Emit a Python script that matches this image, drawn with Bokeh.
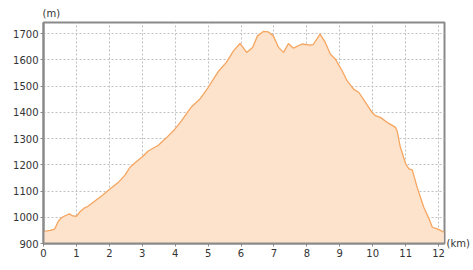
from bokeh.plotting import figure
from bokeh.models import Range1d, FixedTicker, Title, LinearAxis
from bokeh.embed import file_html
from bokeh.resources import INLINE

km = [0, 0.1, 0.2, 0.34, 0.45, 0.54, 0.64, 0.79, 0.89, 1.0, 1.1, 1.25, 1.35, 1.6,
      1.8, 2.0, 2.11, 2.28, 2.47, 2.62, 2.8, 3.02, 3.18, 3.48, 3.74, 3.99, 4.19,
      4.34, 4.5, 4.75, 5.0, 5.15, 5.31, 5.56, 5.77, 5.97, 6.17, 6.35, 6.5, 6.68,
      6.83, 6.98, 7.14, 7.29, 7.44, 7.59, 7.85, 8.1, 8.2, 8.4, 8.56, 8.71, 8.86,
      9.07, 9.22, 9.42, 9.58, 9.78, 9.98, 10.08, 10.23, 10.49, 10.69, 10.74,
      10.84, 11.0, 11.1, 11.2, 11.35, 11.55, 11.71, 11.81, 11.96, 12.06, 12.16]
elev = [947, 948, 950, 955, 985, 998, 1005, 1013, 1005, 1004, 1020, 1036, 1042, 1066,
        1085, 1106, 1117, 1134, 1160, 1190, 1210, 1233, 1253, 1274, 1304, 1336, 1368,
        1394, 1422, 1451, 1495, 1525, 1556, 1592, 1635, 1663, 1629, 1648, 1692, 1709,
        1707, 1692, 1648, 1629, 1663, 1645, 1661, 1657, 1660, 1699, 1667, 1623, 1604,
        1559, 1521, 1489, 1476, 1438, 1400, 1388, 1381, 1358, 1343, 1330,
        1267, 1204, 1185, 1181, 1114, 1038, 994, 962, 956, 950, 943]

x_ticks = list(range(0, 13))
y_ticks = [900, 1000, 1100, 1200, 1300, 1400, 1500, 1600, 1700]
y_unit = "(m)"
x_unit = "(km)"

p = figure(width=473, height=270, output_backend="svg", toolbar_location=None,
           x_range=Range1d(0, 12.18), y_range=Range1d(900, 1743),
           min_border_left=43, min_border_right=29, min_border_top=22,
           min_border_bottom=27)
p.background_fill_color = "white"
p.border_fill_color = "white"
p.outline_line_color = "#8a8a8a"
p.outline_line_width = 2

p.varea(x=km, y1=[900] * len(km), y2=elev, fill_color="#fde3cc", fill_alpha=1)
p.line(x=km, y=elev, line_color="#f5a55f", line_width=1.3)

for ax in (p.xaxis[0], p.yaxis[0]):
    ax.axis_line_color = "#8a8a8a"
    ax.axis_line_width = 2
    ax.major_tick_line_color = "#8a8a8a"
    ax.major_tick_out = 3
    ax.major_tick_in = 0
    ax.minor_tick_line_color = None
    ax.major_label_text_font = "DejaVu Sans"
    ax.major_label_text_font_size = "10px"
    ax.major_label_text_color = "#333333"
    ax.major_label_standoff = 2
p.xaxis.ticker = FixedTicker(ticks=x_ticks)
p.yaxis.ticker = FixedTicker(ticks=y_ticks)

p.grid.grid_line_color = "#c0c0c0"
p.grid.grid_line_dash = "2 2"
p.grid.grid_line_width = 1

# y unit as a left-aligned title above the frame
t = Title(text=y_unit, align="left", offset=-1, standoff=7,
          text_font="DejaVu Sans", text_font_size="10px",
          text_font_style="normal", text_color="#333333")
p.add_layout(t, "above")

# x unit as a one-tick right axis at the bottom of the frame
ra = LinearAxis(ticker=FixedTicker(ticks=[900]),
                major_label_overrides={900: x_unit})
ra.axis_line_color = None
ra.major_tick_line_color = None
ra.minor_tick_line_color = None
ra.major_tick_out = 0
ra.major_tick_in = 0
ra.major_label_standoff = 2
ra.major_label_text_font = "DejaVu Sans"
ra.major_label_text_font_size = "10px"
ra.major_label_text_color = "#333333"
ra.major_label_text_baseline = "middle"
p.add_layout(ra, "right")

open("out.html", "w").write(file_html(p, INLINE))
